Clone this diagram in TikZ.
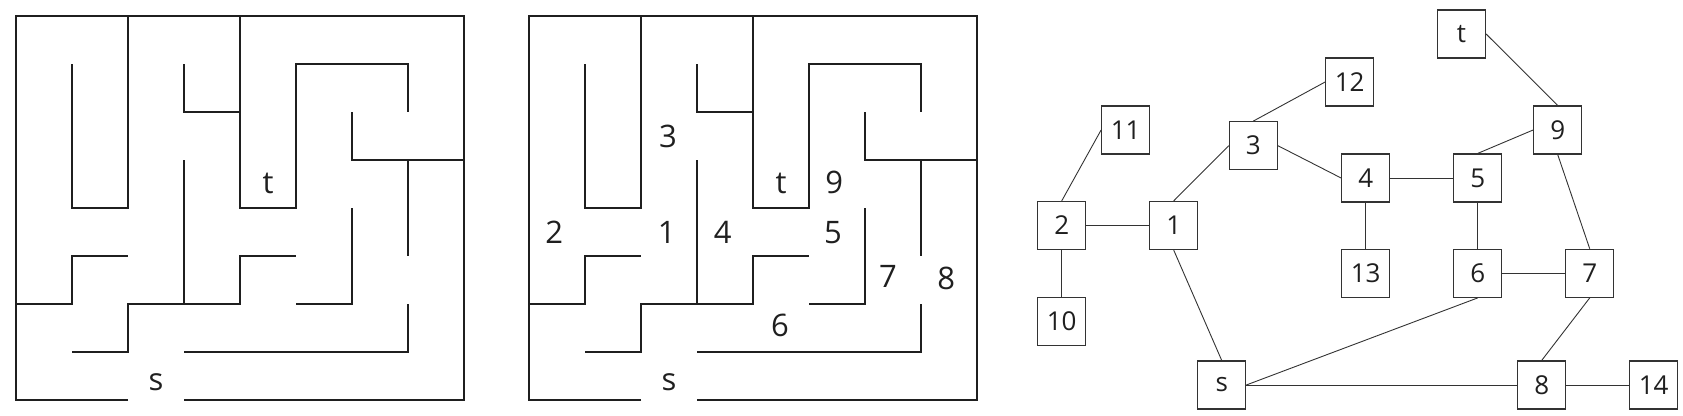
\documentclass[tikz,border=0pt]{standalone}
\usepackage{fontspec}
\setmainfont{Open Sans}
\newcommand{\mazewalls}{%
  \draw[wall] (2,8) -- (0,8) -- (0,0) -- (8,0) -- (8,8) -- (3,8);
  \draw[wall] (0,6) -- (1,6) -- (1,5) -- (2,5);
  \draw[wall] (2,0) -- (2,4) -- (1,4) -- (1,1);
  \draw[wall] (3,1) -- (3,2) -- (4,2);
  \draw[wall] (4,0) -- (4,4) -- (5,4) -- (5,1) -- (7,1) -- (7,2);
  \draw[wall] (6,2) -- (6,3) -- (8,3);
  \draw[wall] (7,3) -- (7,5);
  \draw[wall] (3,3) -- (3,6);
  \draw[wall] (1,7) -- (2,7) -- (2,6) -- (4,6) -- (4,5) -- (5,5);
  \draw[wall] (6,4) -- (6,6) -- (5,6);
  \draw[wall] (7,6) -- (7,7) -- (3,7);
}
\begin{document}
\begin{tikzpicture}[x=1pt,y=-1pt,
  wall/.style={line width=2.7pt, draw=black!88, line join=miter},
  mlabel/.style={font=\fontsize{31}{34}\selectfont, text=black!88, inner sep=0pt},
  vbox/.style={draw=black!80, line width=1.2pt, minimum width=48pt, minimum height=48pt,
               inner sep=0pt, font=\fontsize{26}{30}\selectfont, text=black!88},
  gedge/.style={draw=black!80, line width=0.9pt}]
\useasboundingbox (0,0) rectangle (1683,415);

% maze 1
\begin{scope}[xshift=16pt, yshift=-16pt, x=56pt, y=-48pt]
  \mazewalls
  \node[mlabel] (m1t) at (4.5,3.49) {t};
  \node[mlabel] (m1s) at (2.5,7.62) {s};
\end{scope}

% maze 2
\begin{scope}[xshift=529pt, yshift=-16pt, x=56pt, y=-48pt]
  \mazewalls
  \node[mlabel] (m2c) at (2.48,2.51) {3};
  \node[mlabel] (m2t) at (4.5,3.49) {t};
  \node[mlabel] (m2i) at (5.45,3.47) {9};
  \node[mlabel] (m2b) at (0.45,4.51) {2};
  \node[mlabel] (m2a) at (2.46,4.51) {1};
  \node[mlabel] (m2d) at (3.46,4.51) {4};
  \node[mlabel] (m2e) at (5.43,4.51) {5};
  \node[mlabel] (m2g) at (6.41,5.43) {7};
  \node[mlabel] (m2h) at (7.45,5.46) {8};
  \node[mlabel] (m2f) at (4.48,6.44) {6};
  \node[mlabel] (m2s) at (2.5,7.62) {s};
\end{scope}

% graph
\node[vbox] (gt)  at (1461.5,34)  {t};
\node[vbox] (g12) at (1349.7,82)  {12};
\node[vbox] (g11) at (1125.7,130) {11};
\node[vbox] (g9)  at (1557.7,130) {9};
\node[vbox] (g3)  at (1253.3,145.7) {3};
\node[vbox] (g4)  at (1365.7,178) {4};
\node[vbox] (g5)  at (1477.7,178) {5};
\node[vbox] (g2)  at (1061.7,225.5) {2};
\node[vbox] (g1)  at (1173.7,225.5) {1};
\node[vbox] (g13) at (1365.7,273.3) {13};
\node[vbox] (g6)  at (1477.7,273.3) {6};
\node[vbox] (g7)  at (1589.7,273.3) {7};
\node[vbox] (g10) at (1061.7,321.3) {10};
\node[vbox] (gs)  at (1221.7,385) {s};
\node[vbox] (g8)  at (1541.7,385) {8};
\node[vbox] (g14) at (1653.7,385) {14};

\draw[gedge] (g2.north) -- (g11.west);
\draw[gedge] (g2.east) -- (g1.west);
\draw[gedge] (g2.south) -- (g10.north);
\draw[gedge] (g1.north) -- (g3.west);
\draw[gedge] (g1.south) -- (gs.north);
\draw[gedge] (g3.north) -- (g12.west);
\draw[gedge] (g3.east) -- (g4.west);
\draw[gedge] (g4.east) -- (g5.west);
\draw[gedge] (g4.south) -- (g13.north);
\draw[gedge] (g5.south) -- (g6.north);
\draw[gedge] (g6.east) -- (g7.west);
\draw[gedge] (g5.north) -- (g9.west);
\draw[gedge] (gt.east) -- (g9.north);
\draw[gedge] (g9.south) -- (g7.north);
\draw[gedge] (g7.south) -- (g8.north);
\draw[gedge] (g6.south) -- (gs.east);
\draw[gedge] (gs.east) -- (g8.west);
\draw[gedge] (g8.east) -- (g14.west);
\end{tikzpicture}
\end{document}
